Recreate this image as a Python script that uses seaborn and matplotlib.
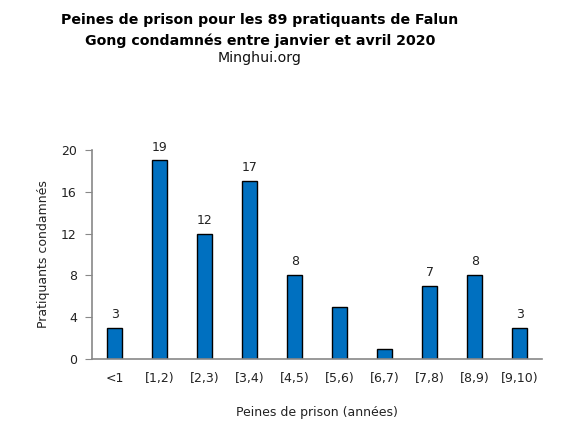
import matplotlib
matplotlib.use("Agg")
import matplotlib.pyplot as plt
import seaborn as sns
import pandas as pd

categories = ["<1", "[1,2)", "[2,3)", "[3,4)", "[4,5)", "[5,6)", "[6,7)", "[7,8)", "[8,9)", "[9,10)"]
values = [3, 19, 12, 17, 8, 5, 1, 7, 8, 3]
shown_labels = ["3", "19", "12", "17", "8", "", "", "7", "8", "3"]
y_ticks = [0, 4, 8, 12, 16, 20]

sns.set_style("white")
plt.rcParams['font.family'] = ['DejaVu Sans']

df = pd.DataFrame({"cat": categories, "val": values})

fig = plt.figure(figsize=(5.83, 4.40), dpi=100)
ax = fig.add_axes([0.158, 0.184, 0.772, 0.475])
sns.barplot(data=df, x="cat", y="val", ax=ax, color="#0070C0", saturation=1,
            width=0.33, edgecolor="black", linewidth=1)

ax.bar_label(ax.containers[0], labels=shown_labels, padding=5, fontsize=9, color="#222222")

ax.set_ylim(0, 20)
ax.set_yticks(y_ticks)
ax.set_xlim(-0.5, len(categories) - 0.5)
for s in ["top", "right"]:
    ax.spines[s].set_visible(False)
for s in ["left", "bottom"]:
    ax.spines[s].set_color("#888888")
    ax.spines[s].set_linewidth(1.2)
ax.tick_params(axis="y", which="both", left=True, length=5, color="#888888",
               labelsize=9, labelcolor="#222222", pad=6)
ax.tick_params(axis="x", bottom=False, labelsize=9, labelcolor="#222222", pad=6)

ax.set_xlabel("Peines de prison (années)", fontsize=9, color="#222222", labelpad=15)
ax.set_ylabel("Pratiquants condamnés", fontsize=9, color="#222222", labelpad=8)

cx = 260 / 583
fig.text(cx, 0.97, "Peines de prison pour les 89 pratiquants de Falun\nGong condamnés entre janvier et avril 2020",
         ha="center", va="top", fontsize=10.2, fontweight="bold", color="black", linespacing=1.55)
fig.text(cx, 0.883, "Minghui.org", ha="center", va="top", fontsize=10.2, color="#111111")

fig.savefig("out.png", dpi=100)
